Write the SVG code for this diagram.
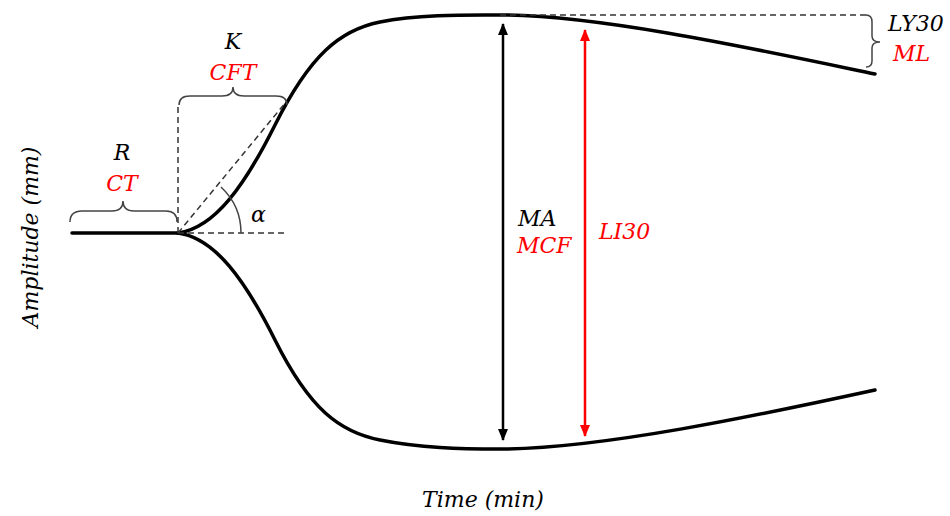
<svg xmlns="http://www.w3.org/2000/svg" width="950" height="516" viewBox="0 0 950 516">
<style>
.t{font-family:"DejaVu Serif","Liberation Serif",serif;font-style:italic;font-size:22px;fill:#000}
.r{fill:#ff0000}
.curve{fill:none;stroke:#000;stroke-width:3.5;stroke-linecap:round}
.dash{fill:none;stroke:#333;stroke-width:1.5;stroke-dasharray:6,4}
.brace{fill:none;stroke:#444;stroke-width:1.5}
</style>
<defs>
<marker id="ab" viewBox="0 0 12 12" refX="11" refY="6" markerWidth="12" markerHeight="12" markerUnits="userSpaceOnUse" orient="auto-start-reverse"><path d="M0,1 L12,6 L0,11 Z" fill="#000"/></marker>
<marker id="ar" viewBox="0 0 12 12" refX="11" refY="6" markerWidth="12" markerHeight="12" markerUnits="userSpaceOnUse" orient="auto-start-reverse"><path d="M0,1 L12,6 L0,11 Z" fill="#ff0000"/></marker>
</defs>
<rect width="950" height="516" fill="#fff"/>
<g id="curves">
<path class="curve" d="M72,233 L178,233"/>
<path class="curve" d="M178,233 C215,228 245,185 275,125 C310,55 340,30 380,22 C420,14 470,15 500,15 C600,15 760,50 875,74"/>
<path class="curve" d="M178,233 C215,238 245,280 275,340 C310,410 340,432 380,440 C420,448 460,449 500,449 C600,449 760,415 875,390"/>
</g>
<g id="connectors">
<path class="dash" d="M178,233 L178,103"/>
<path class="dash" d="M178,233 L286,102"/>
<path class="dash" d="M178,233 L288,233"/>
<path class="dash" d="M500,15 L866,15"/>
<path class="brace" d="M241,233 A63,63 0 0 0 221,187"/>
<line x1="503" y1="24" x2="503" y2="440" stroke="#000" stroke-width="2.5" marker-start="url(#ab)" marker-end="url(#ab)"/>
<line x1="585" y1="30" x2="585" y2="436" stroke="#ff0000" stroke-width="2.5" marker-start="url(#ar)" marker-end="url(#ar)"/>
</g>
<g id="brace-R">
<path class="brace" d="M70,222 Q70,211 82,211 L112,211 Q123,211 123,201 Q123,211 134,211 L166,211 Q177,211 177,222"/>
<text class="t" x="122" y="160" text-anchor="middle">R</text>
<text class="t r" x="122" y="191" text-anchor="middle">CT</text>
</g>
<g id="brace-K">
<path class="brace" d="M179,105 Q179,96 190,96 L222,96 Q233,96 233,87 Q233,96 244,96 L276,96 Q287,96 287,105"/>
<text class="t" x="233" y="49" text-anchor="middle">K</text>
<text class="t r" x="233" y="80" text-anchor="middle">CFT</text>
</g>
<g id="alpha">
<text class="t" x="251" y="222">α</text>
</g>
<g id="MA">
<text class="t" x="518" y="226">MA</text>
<text class="t r" x="517" y="253">MCF</text>
</g>
<g id="LI30">
<text class="t r" x="599" y="239">LI30</text>
</g>
<g id="brace-LY30">
<path class="brace" d="M866,15 Q872,15 872,22 L872,36 Q872,42 880,42 Q872,42 872,48 L872,61 Q872,67 866,67"/>
<text class="t" x="888" y="31">LY30</text>
<text class="t r" x="893" y="61">ML</text>
</g>
<g id="axes">
<text class="t" x="483" y="507" text-anchor="middle">Time (min)</text>
<text class="t" transform="translate(38,237) rotate(-90)" text-anchor="middle">Amplitude (mm)</text>
</g>
</svg>
